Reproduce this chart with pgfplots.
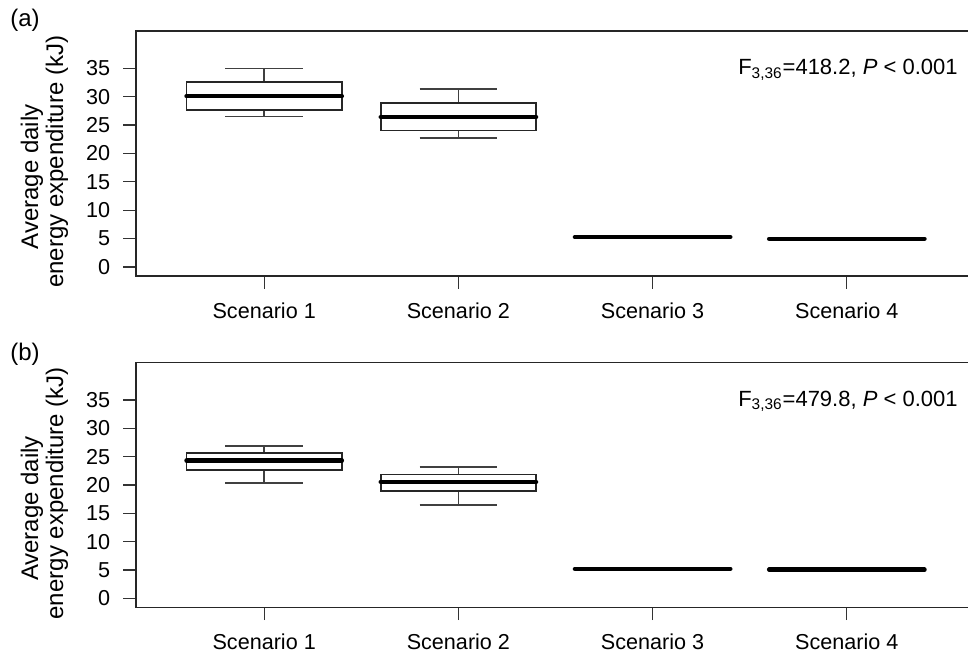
\documentclass[border=0pt]{standalone}
\usepackage{fontspec}
\setmainfont{Liberation Sans}
\usepackage{pgfplots}
\pgfplotsset{compat=1.18}

\pgfplotsset{
  boxst/.style={draw=black!85, line width=0.9pt, mark=none, line join=miter},
  whst/.style={draw=black!75, line width=0.8pt, mark=none},
  medst/.style={draw=black, line width=2.2pt, mark=none, line cap=round},
  panel/.style={
    scale only axis, width=419.5pt, height=122.5pt,
    xmin=0.34, xmax=4.66, ymin=-1.6, ymax=41.6,
    xtick={1,2,3,4}, xticklabels={Scenario 1,Scenario 2,Scenario 3,Scenario 4},
    ytick={0,5,10,15,20,25,30,35},
    tick align=outside, major tick length=6.35pt,
    xtick pos=left, ytick pos=left,
    axis line style={line width=0.7pt, black!85},
    every tick/.style={line width=0.65pt, black!80},
    tick label style={font=\fontsize{10.8}{13}\selectfont},
    /pgf/number format/assume math mode=true,
    yticklabel style={xshift=-3.0pt},
    xticklabel style={yshift=-3.4pt},
  },
}

% #1 position, #2 lower whisker, #3 lower quartile, #4 median, #5 upper quartile, #6 upper whisker
\newcommand{\bx}[6]{%
  \pgfmathsetmacro\xl{#1-0.4}\pgfmathsetmacro\xr{#1+0.4}%
  \pgfmathsetmacro\sl{#1-0.2}\pgfmathsetmacro\sr{#1+0.2}%
  \addplot[whst] coordinates {(#1,#5) (#1,#6)};
  \addplot[whst] coordinates {(\sl,#6) (\sr,#6)};
  \addplot[whst] coordinates {(#1,#3) (#1,#2)};
  \addplot[whst] coordinates {(\sl,#2) (\sr,#2)};
  \addplot[boxst] coordinates {(\xl,#3) (\xr,#3) (\xr,#5) (\xl,#5) (\xl,#3)} -- cycle;
  \addplot[medst] coordinates {(\xl,#4) (\xr,#4)};
}

\begin{document}
\begin{tikzpicture}
% ---------------- panel (a)
\begin{axis}[panel, at={(68pt,190.5pt)}, anchor=south west]
\bx{1}{26.55}{27.6}{30.1}{32.6}{35.0}
\bx{2}{22.76}{24.07}{26.43}{28.97}{31.35}
\bx{3}{5.27}{5.27}{5.27}{5.27}{5.27}
\bx{4}{4.97}{4.97}{4.97}{4.97}{4.97}
\end{axis}
% ---------------- panel (b)
\begin{axis}[panel, at={(68pt,24.75pt)}, anchor=south west]
\bx{1}{20.36}{22.67}{24.3}{25.67}{26.86}
\bx{2}{16.47}{19.01}{20.54}{21.84}{23.14}
\bx{3}{5.2}{5.2}{5.2}{5.2}{5.2}
\bx{4}{5.02}{5.08}{5.08}{5.08}{5.14}
\end{axis}
% ---------------- labels
\node[anchor=base west, inner sep=0pt, font=\fontsize{12}{14}\selectfont] at (5pt,315pt) {(a)};
\node[anchor=base west, inner sep=0pt, font=\fontsize{12}{14}\selectfont] at (5pt,148pt) {(b)};
\node[anchor=base east, inner sep=0pt, font=\fontsize{11}{13}\selectfont] at (479pt,291pt) {F\textsubscript{3,36}=418.2, \textit{P} < 0.001};
\node[anchor=base east, inner sep=0pt, font=\fontsize{11}{13}\selectfont] at (479pt,125.25pt) {F\textsubscript{3,36}=479.8, \textit{P} < 0.001};
\node[rotate=90, anchor=base, inner sep=0pt, font=\fontsize{12}{14}\selectfont] at (19pt,240pt) {Average daily};
\node[rotate=90, anchor=base, inner sep=0pt, font=\fontsize{12}{14}\selectfont] at (31.5pt,247.6pt) {energy expenditure (kJ)};
\node[rotate=90, anchor=base, inner sep=0pt, font=\fontsize{12}{14}\selectfont] at (19pt,74.25pt) {Average daily};
\node[rotate=90, anchor=base, inner sep=0pt, font=\fontsize{12}{14}\selectfont] at (31.5pt,81.85pt) {energy expenditure (kJ)};
\pgfresetboundingbox
\useasboundingbox (0pt,0pt) rectangle (484pt,328.5pt);
\end{tikzpicture}
\end{document}
